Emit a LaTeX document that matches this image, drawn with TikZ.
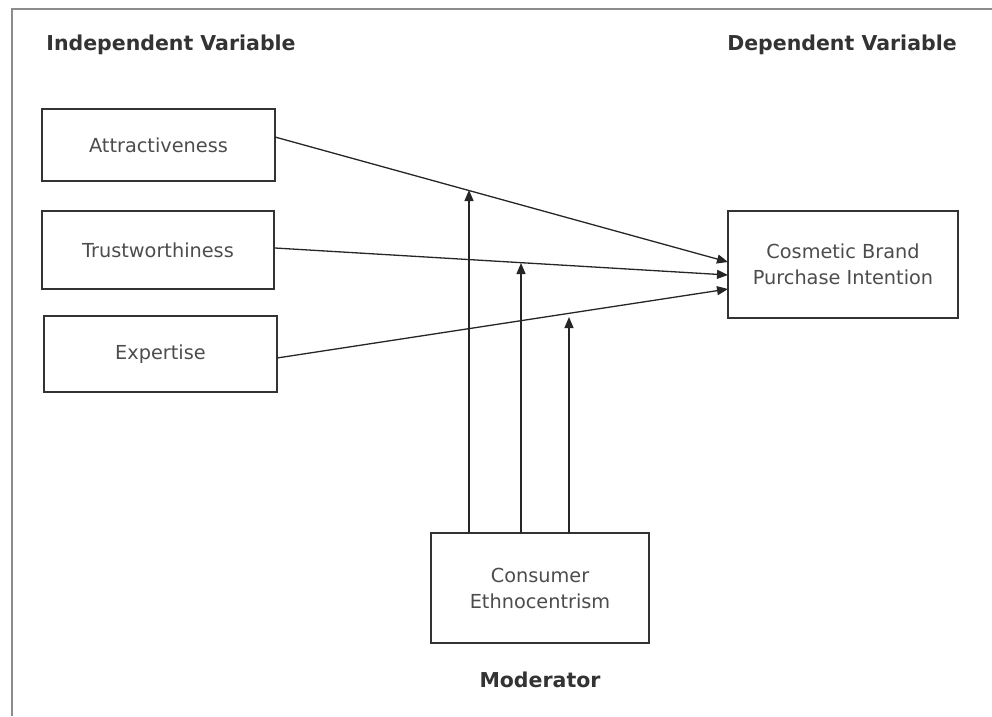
\documentclass[tikz,border=0pt]{standalone}
\usepackage{fontspec}
\setmainfont{DejaVu Sans}
\usetikzlibrary{arrows.meta}
\begin{document}
\begin{tikzpicture}[x=1pt,y=-1pt,
  box/.style={draw=black!80,line width=1.4pt,inner sep=0pt,align=center,
    font=\fontsize{19.3}{26}\selectfont,text=black!70},
  head/.style={font=\bfseries\fontsize{20.5}{24}\selectfont,text=black!80,inner sep=0pt},
  arr/.style={draw=black!85,line width=1.3pt,-{Triangle[length=11pt,width=9pt]}}]
\useasboundingbox (0,0) rectangle (992,716);
\draw[black!45,line width=2pt] (12,716) -- (12,9) -- (992,9);
\node[head] (iv) at (171,45) {Independent Variable};
\node[head] (dv) at (842,45) {Dependent Variable};
\node[head] (mod) at (540,680) {Moderator};
\node[box,minimum width=233pt,minimum height=72pt] (a) at (158.5,145) {Attractiveness};
\node[box,minimum width=232pt,minimum height=78pt] (t) at (158,250) {Trustworthiness};
\node[box,minimum width=233pt,minimum height=76pt] (e) at (160.5,354) {Expertise};
\node[box,minimum width=230pt,minimum height=107pt] (c) at (843,264.5) {Cosmetic Brand\\Purchase Intention};
\node[box,minimum width=218pt,minimum height=110pt] (m) at (540,588) {Consumer\\Ethnocentrism};
\coordinate (a0) at (275,137);
\coordinate (t0) at (275,248);
\coordinate (e0) at (277,358);
\coordinate (a1) at (728,262);
\coordinate (t1) at (728,275);
\coordinate (e1) at (728,289);
\draw[arr] (a0) -- (a1);
\draw[arr] (t0) -- (t1);
\draw[arr] (e0) -- (e1);
\coordinate (m1) at (469,533);
\coordinate (m2) at (521,533);
\coordinate (m3) at (569,533);
\coordinate (p1) at (469,190);
\coordinate (p2) at (521,263);
\coordinate (p3) at (569,317);
\draw[arr] (m1) -- (p1);
\draw[arr] (m2) -- (p2);
\draw[arr] (m3) -- (p3);
\end{tikzpicture}
\end{document}
